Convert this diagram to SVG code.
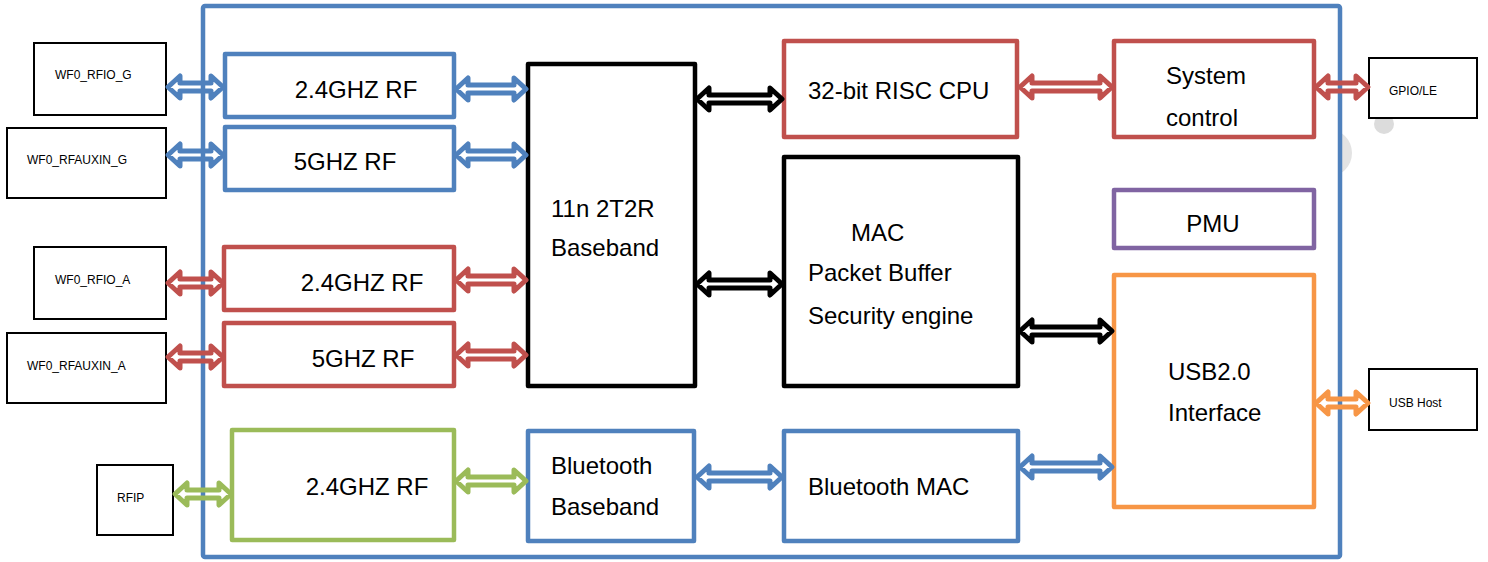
<svg xmlns="http://www.w3.org/2000/svg" width="1488" height="562" viewBox="0 0 1488 562">
<style>
.bx{fill:#fff;stroke-width:4.5;stroke-linejoin:round}
.ext{fill:#fff;stroke:#000;stroke-width:2}
.b{stroke:#4F81BD}.r{stroke:#C0504D}.g{stroke:#9BBB59}.p{stroke:#8064A2}.o{stroke:#F79646}.k{stroke:#000}
.t{font-family:"Liberation Sans",Arial,sans-serif;font-size:24px;fill:#000}
.s{font-family:"Liberation Sans",Arial,sans-serif;font-size:12px;fill:#000}
.a{fill:none;stroke-width:5;stroke-linejoin:round}
</style>
<rect width="1488" height="562" fill="#fff"/>
<circle cx="1328" cy="153" r="24" fill="#e3e3e3"/>
<circle cx="1384" cy="124" r="10" fill="#dcdcdc"/>
<g id="chip"><rect x="203" y="6" width="1137" height="551" rx="2" fill="#fff" stroke="#4F81BD" stroke-width="4.5"/></g>

<g id="wf0-rfio-g"><rect class="ext" x="34" y="43" width="132" height="72"/><text class="s" x="55" y="79">WF0_RFIO_G</text></g>
<g id="wf0-rfauxin-g"><rect class="ext" x="7" y="128" width="159" height="70"/><text class="s" x="27" y="164">WF0_RFAUXIN_G</text></g>
<g id="wf0-rfio-a"><rect class="ext" x="34" y="247" width="132" height="72"/><text class="s" x="55" y="284">WF0_RFIO_A</text></g>
<g id="wf0-rfauxin-a"><rect class="ext" x="7" y="333" width="159" height="70"/><text class="s" x="27" y="370">WF0_RFAUXIN_A</text></g>
<g id="rfip"><rect class="ext" x="97" y="465" width="76" height="70"/><text class="s" x="117" y="502">RFIP</text></g>
<g id="gpio"><rect class="ext" x="1369" y="58" width="108" height="60"/><text class="s" x="1389" y="95">GPIO/LE</text></g>
<g id="usbhost"><rect class="ext" x="1369" y="369" width="108" height="61"/><text class="s" x="1389" y="407">USB Host</text></g>

<g id="rf24-g"><rect class="bx b" x="225" y="54" width="229" height="63"/><text class="t" x="356" y="98" text-anchor="middle">2.4GHZ RF</text></g>
<g id="rf5-g"><rect class="bx b" x="225" y="127" width="229" height="63"/><text class="t" x="345" y="170" text-anchor="middle">5GHZ RF</text></g>
<g id="rf24-a"><rect class="bx r" x="224" y="247" width="230" height="63"/><text class="t" x="362" y="291" text-anchor="middle">2.4GHZ RF</text></g>
<g id="rf5-a"><rect class="bx r" x="224" y="323" width="230" height="63"/><text class="t" x="363" y="367" text-anchor="middle">5GHZ RF</text></g>
<g id="rf24-bt"><rect class="bx g" x="232" y="430" width="222" height="110"/><text class="t" x="367" y="495" text-anchor="middle">2.4GHZ RF</text></g>
<g id="baseband"><rect class="bx k" x="528" y="64" width="167" height="322"/><text class="t" x="551" y="217">11n 2T2R</text><text class="t" x="551" y="256">Baseband</text></g>
<g id="bt-baseband"><rect class="bx b" x="528" y="431" width="166" height="110"/><text class="t" x="551" y="474">Bluetooth</text><text class="t" x="551" y="515">Baseband</text></g>
<g id="cpu"><rect class="bx r" x="784" y="41" width="233" height="96"/><text class="t" x="808" y="99">32-bit RISC CPU</text></g>
<g id="mac"><rect class="bx k" x="784" y="157" width="234" height="229"/><text class="t" x="851" y="241">MAC</text><text class="t" x="808" y="281">Packet Buffer</text><text class="t" x="808" y="324">Security engine</text></g>
<g id="bt-mac"><rect class="bx b" x="784" y="431" width="234" height="110"/><text class="t" x="808" y="495">Bluetooth MAC</text></g>
<g id="sysctl"><rect class="bx r" x="1114" y="41" width="200" height="96"/><text class="t" x="1166" y="84">System</text><text class="t" x="1166" y="126">control</text></g>
<g id="pmu"><rect class="bx p" x="1114" y="190" width="200" height="58"/><text class="t" x="1213" y="232" text-anchor="middle">PMU</text></g>
<g id="usb"><rect class="bx o" x="1114" y="275" width="200" height="232"/><text class="t" x="1168" y="380">USB2.0</text><text class="t" x="1168" y="421">Interface</text></g>

<g id="connectors">
<path class="a b" d="M168 87 L180 76 L180 83 L211 83 L211 76 L223 87 L211 98 L211 91 L180 91 L180 98 Z"/>
<path class="a b" d="M168 155 L180 144 L180 151 L211 151 L211 144 L223 155 L211 166 L211 159 L180 159 L180 166 Z"/>
<path class="a b" d="M456 89 L468 78 L468 85 L514 85 L514 78 L526 89 L514 100 L514 93 L468 93 L468 100 Z"/>
<path class="a b" d="M456 155 L468 144 L468 151 L514 151 L514 144 L526 155 L514 166 L514 159 L468 159 L468 166 Z"/>
<path class="a r" d="M168 283 L180 272 L180 279 L211 279 L211 272 L223 283 L211 294 L211 287 L180 287 L180 294 Z"/>
<path class="a r" d="M168 357 L180 346 L180 353 L211 353 L211 346 L223 357 L211 368 L211 361 L180 361 L180 368 Z"/>
<path class="a r" d="M456 280 L468 269 L468 276 L514 276 L514 269 L526 280 L514 291 L514 284 L468 284 L468 291 Z"/>
<path class="a r" d="M456 355 L468 344 L468 351 L514 351 L514 344 L526 355 L514 366 L514 359 L468 359 L468 366 Z"/>
<path class="a g" d="M175 494 L187 483 L187 490 L219 490 L219 483 L231 494 L219 505 L219 498 L187 498 L187 505 Z"/>
<path class="a g" d="M456 481 L468 470 L468 477 L514 477 L514 470 L526 481 L514 492 L514 485 L468 485 L468 492 Z"/>
<path class="a b" d="M697 477 L709 466 L709 473 L770 473 L770 466 L782 477 L770 488 L770 481 L709 481 L709 488 Z"/>
<path class="a b" d="M1020 467 L1032 456 L1032 463 L1100 463 L1100 456 L1112 467 L1100 478 L1100 471 L1032 471 L1032 478 Z"/>
<path class="a k" d="M697 99 L709 88 L709 95 L770 95 L770 88 L782 99 L770 110 L770 103 L709 103 L709 110 Z"/>
<path class="a k" d="M697 284 L709 273 L709 280 L770 280 L770 273 L782 284 L770 295 L770 288 L709 288 L709 295 Z"/>
<path class="a k" d="M1020 331 L1032 320 L1032 327 L1100 327 L1100 320 L1112 331 L1100 342 L1100 335 L1032 335 L1032 342 Z"/>
<path class="a r" d="M1020 87 L1032 76 L1032 83 L1100 83 L1100 76 L1112 87 L1100 98 L1100 91 L1032 91 L1032 98 Z"/>
<path class="a r" d="M1316 87 L1328 76 L1328 83 L1356 83 L1356 76 L1368 87 L1356 98 L1356 91 L1328 91 L1328 98 Z"/>
<path class="a o" d="M1316 403 L1328 392 L1328 399 L1356 399 L1356 392 L1368 403 L1356 414 L1356 407 L1328 407 L1328 414 Z"/>
</g>
</svg>
